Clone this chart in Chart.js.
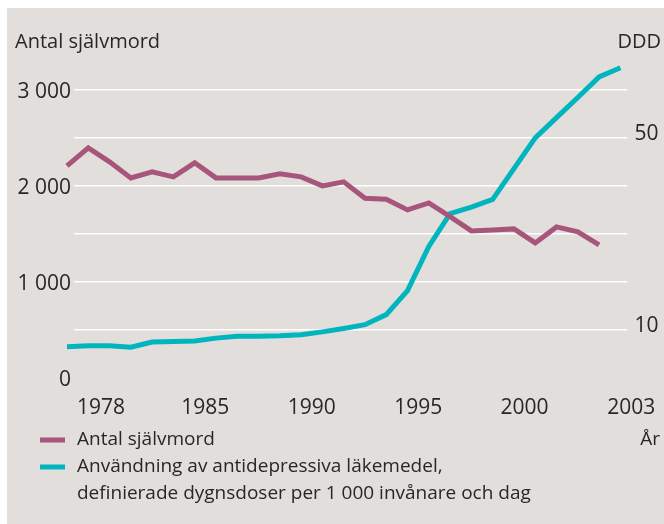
<!DOCTYPE html>
<html lang="sv">
<head>
<meta charset="utf-8">
<script src="https://cdn.jsdelivr.net/npm/chart.js@4/dist/chart.umd.min.js"></script>
<style>
    html, body { margin: 0; padding: 0; background: #ffffff; }
    #wrap { width: 664px; height: 524px; }
</style>
</head>
<body>
<div id="wrap"><canvas id="chart" width="664" height="524"></canvas></div>
<script>
// Data
const years = [1978, 1979, 1980, 1981, 1982, 1983, 1984, 1985, 1986, 1987, 1988, 1989, 1990,
               1991, 1992, 1993, 1994, 1995, 1996, 1997, 1998, 1999, 2000, 2001, 2002, 2003, 2004];
const suicides = [2208, 2396, 2250, 2083, 2146, 2094, 2240, 2083, 2083, 2083, 2125, 2094, 2000,
                  2042, 1872, 1860, 1750, 1823, 1680, 1531, 1540, 1552, 1406, 1573, 1521, 1385, null];
const ddd = [6.5, 6.7, 6.7, 6.4, 7.5, 7.6, 7.7, 8.3, 8.7, 8.7, 8.8, 9.0, 9.6,
             10.3, 11.1, 13.2, 18.2, 27.4, 34.2, 35.6, 37.2, 43.6, 50.0, 54.2, 58.4, 62.7, 64.6];
const xTickLabels = [1978, 1985, 1990, 1995, 2000, 2003];
const leftTicks = [0, 1000, 2000, 3000];
const rightTicks = [10, 50];
const legendLabels = [
    ["Antal självmord"],
    ["Användning av antidepressiva läkemedel,",
     "definierade dygnsdoser per 1 000 invånare och dag"]
];

const PURPLE = "#a8557b";
const TEAL = "#00b5bd";
const BG = "#e2dedb";
const INK = "#2a2627";
const FONT = "'Open Sans', 'Noto Sans', sans-serif";

// DDD axis is drawn at 1/50 of the left axis (10 sits on 500, 50 on 2500)
const LEFT_MAX = 3300;
const RATIO = 50;
const GRID_STEP = 500;

function spaced(v) {
    return String(v).replace(/\B(?=(\d{3})+(?!\d))/g, " ");
}

// Grey panel, legend and free-standing labels
const decor = {
    id: "decor",
    beforeDraw(chart) {
        const { ctx } = chart;
        ctx.save();
        ctx.fillStyle = BG;
        ctx.fillRect(7, 8, chart.width - 7, chart.height - 8);
        ctx.restore();
    },
    afterDraw(chart) {
        const { ctx } = chart;
        ctx.save();
        ctx.fillStyle = INK;
        ctx.font = "20px " + FONT;
        ctx.textBaseline = "middle";
        ctx.textAlign = "left";
        ctx.fillText("Antal självmord", 15, 42);
        ctx.textAlign = "right";
        ctx.fillText("DDD", chart.width - 3, 42);

        // legend
        const lineH = 27;
        let y = 440;
        ctx.font = "19px " + FONT;
        chart.data.datasets.forEach((d, i) => {
            ctx.fillStyle = d.borderColor;
            ctx.fillRect(40, y - 2.5, 25, 5);
            ctx.fillStyle = INK;
            ctx.textAlign = "left";
            legendLabels[i].forEach((line, j) => ctx.fillText(line, 77, y + j * lineH));
            y += legendLabels[i].length * lineH;
        });
        ctx.textAlign = "right";
        ctx.fillText("År", chart.width - 4, 440);
        ctx.restore();
    }
};

const ctx = document.getElementById("chart").getContext("2d");
new Chart(ctx, {
    type: "line",
    data: {
        datasets: [
            {
                label: legendLabels[0].join(" "),
                data: years.map((y, i) => ({ x: y, y: suicides[i] })),
                borderColor: PURPLE,
                backgroundColor: PURPLE,
                borderWidth: 5,
                pointRadius: 0,
                tension: 0,
                clip: false,
                yAxisID: "y"
            },
            {
                label: legendLabels[1].join(" "),
                data: years.map((y, i) => ({ x: y, y: ddd[i] })),
                borderColor: TEAL,
                backgroundColor: TEAL,
                borderWidth: 5,
                pointRadius: 0,
                tension: 0,
                clip: false,
                yAxisID: "y2"
            }
        ]
    },
    options: {
        responsive: false,
        animation: false,
        layout: { padding: { top: 61, left: 0, right: 0, bottom: 98 } },
        scales: {
            x: {
                type: "linear",
                min: 1978.33,
                max: 2004.33,
                grid: { display: false },
                border: { display: false },
                afterBuildTicks: s => {
                    // year labels sit at the start of each year; the two end labels
                    // are pushed to the panel edges as in the print layout
                    s.ticks = xTickLabels.map((y, i) => {
                        let v = y - 0.5;
                        if (i === 0) v = s.min + 1.27;
                        if (i === xTickLabels.length - 1) v = s.max + 0.18;
                        return { value: v, label: String(y) };
                    });
                },
                ticks: {
                    color: INK,
                    font: { family: FONT, size: 21 },
                    padding: 9,
                    maxRotation: 0,
                    autoSkip: false,
                    callback: (v, i, ticks) => ticks[i].label
                },
                afterFit: s => { s.height = 48; }
            },
            y: {
                type: "linear",
                position: "left",
                min: 0,
                max: LEFT_MAX,
                afterBuildTicks: s => {
                    const t = [];
                    for (let v = 0; v <= LEFT_MAX; v += GRID_STEP) t.push({ value: v });
                    s.ticks = t;
                },
                ticks: {
                    color: INK,
                    font: { family: FONT, size: 21 },
                    padding: 3,
                    autoSkip: false,
                    labelOffset: 2,
                    callback: v => leftTicks.includes(v) ? spaced(v) : ""
                },
                grid: {
                    color: c => (c.tick && c.tick.value > 0) ? "#ffffff" : "rgba(0,0,0,0)",
                    lineWidth: 1.5,
                    drawTicks: false
                },
                border: { display: false },
                afterFit: s => { s.width = 74; }
            },
            y2: {
                type: "linear",
                position: "right",
                min: 0,
                max: LEFT_MAX / RATIO,
                afterBuildTicks: s => {
                    s.ticks = rightTicks.map(v => ({ value: v }));
                },
                ticks: {
                    color: INK,
                    font: { family: FONT, size: 21 },
                    padding: 7,
                    autoSkip: false,
                    labelOffset: -4
                },
                grid: { display: false, drawTicks: false },
                border: { display: false },
                afterFit: s => { s.width = 35; }
            }
        },
        plugins: {
            tooltip: { enabled: false },
            legend: { display: false }
        }
    },
    plugins: [decor]
});
</script>
</body>
</html>
